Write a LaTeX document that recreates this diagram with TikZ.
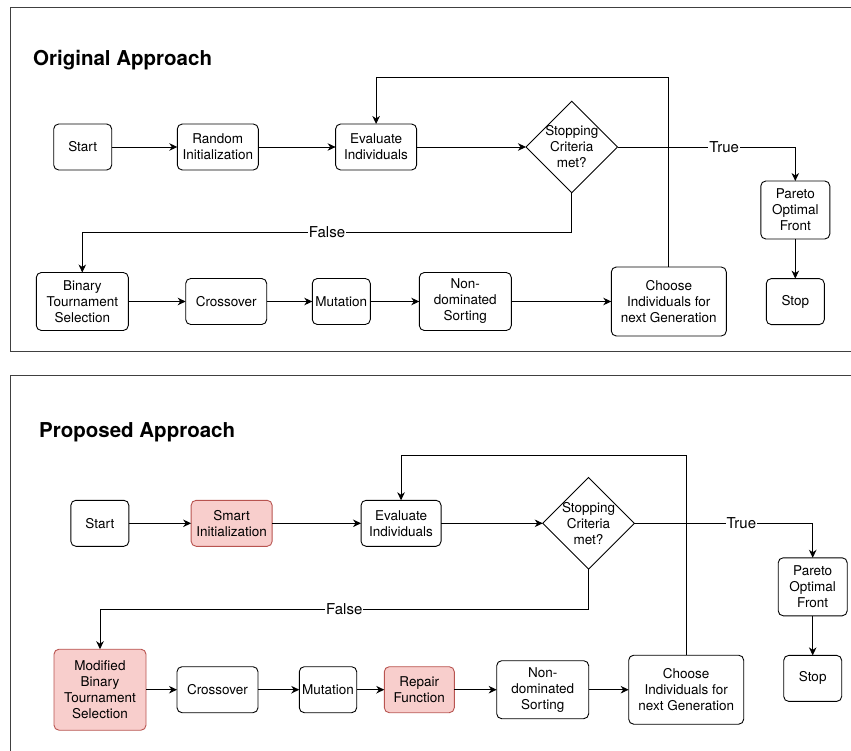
\documentclass[tikz,border=0pt]{standalone}
\usepackage{fontspec}
\setmainfont{TeX Gyre Heros}
\usetikzlibrary{positioning,shapes.geometric,arrows.meta}

\definecolor{boxred}{HTML}{F8CECC}
\definecolor{edgered}{HTML}{B85450}

\tikzset{
  box/.style={draw,rounded corners=5pt,align=center,inner sep=0pt,outer sep=0pt,
    line width=0.9pt,font=\fontsize{13.5}{16}\selectfont},
  redbox/.style={box,fill=boxred,draw=edgered},
  sz/.style 2 args={minimum width=#1pt,minimum height=#2pt},
  crit/.style={draw,diamond,align=center,inner sep=-6pt,outer sep=0pt,
    minimum size=91.6pt,line width=0.9pt,font=\fontsize{13.5}{16}\selectfont},
  lbl/.style={fill=white,inner sep=1pt,font=\fontsize{15}{18}\selectfont},
  heading/.style={anchor=base west,inner sep=0pt,font=\bfseries\fontsize{20.5}{24}\selectfont},
  frame/.style={draw=black!75,line width=0.9pt},
  conn/.style={line width=0.9pt,-{Stealth[length=8pt,width=7.5pt,inset=2.5pt]}}
}

\begin{document}
\begin{tikzpicture}[x=1pt,y=-1pt]
  \useasboundingbox (0,0) rectangle (851,751);
  \draw[frame] (851,7) -- (10,7) -- (10,351) -- (851,351);
  \draw[frame] (851,375) -- (10,375) -- (10,751);

  % original approach
  \node[heading] (title1) at (33,65.5) {Original Approach};
  \node[box,sz={58}{46}] (start1) at (82.7,147) {Start};
  \node[box,sz={81}{46},right=65.6pt of start1] (init1) {Random\\Initialization};
  \node[box,sz={81}{46},right=77.3pt of init1] (eval1) {Evaluate\\Individuals};
  \node[crit,right=109.4pt of eval1] (crit1) {Stopping\\Criteria\\met?};
  \node[box,sz={69}{58}] (pareto1) at (795.3,210) {Pareto\\Optimal\\Front};
  \node[box,sz={58}{46},below=39.6pt of pareto1] (stop1) {Stop};
  \node[box,sz={92}{58}] (binary1) at (82.3,301.5) {Binary\\Tournament\\Selection};
  \node[box,sz={81}{46},right=57.4pt of binary1] (cross1) {Crossover};
  \node[box,sz={58}{46},right=45.6pt of cross1] (mut1) {Mutation};
  \node[box,sz={92}{58},right=49pt of mut1] (sort1) {Non-\\dominated\\Sorting};
  \node[box,sz={115}{69},right=100pt of sort1] (choose1) {Choose\\Individuals for\\next Generation};
  \coordinate (loop1) at (0,77.3);
  \coordinate (false1) at (0,232.3);
  \draw[conn] (start1) -- (init1);
  \draw[conn] (init1) -- (eval1);
  \draw[conn] (eval1) -- (crit1);
  \draw[conn] (crit1.east) -| (pareto1.north) node[lbl,pos=0.3] {True};
  \draw[conn] (pareto1) -- (stop1);
  \draw[conn] (crit1.south) -- (crit1.south |- false1) -| (binary1.north) node[lbl,pos=0.25] {False};
  \draw[conn] (binary1) -- (cross1);
  \draw[conn] (cross1) -- (mut1);
  \draw[conn] (mut1) -- (sort1);
  \draw[conn] (sort1) -- (choose1);
  \draw[conn] (choose1.north) -- (choose1.north |- loop1) -| (eval1.north);

  % proposed approach
  \node[heading] (title2) at (39,437.5) {Proposed Approach};
  \node[box,sz={58}{46}] (start2) at (99.85,523.3) {Start};
  \node[redbox,sz={81}{46},right=62.3pt of start2] (init2) {Smart\\Initialization};
  \node[box,sz={80}{46},right=88.9pt of init2] (eval2) {Evaluate\\Individuals};
  \node[crit,right=101.7pt of eval2] (crit2) {Stopping\\Criteria\\met?};
  \node[box,sz={69}{58}] (pareto2) at (812.7,586.8) {Pareto\\Optimal\\Front};
  \node[box,sz={58}{46},below=39.6pt of pareto2] (stop2) {Stop};
  \node[redbox,sz={92}{81}] (binary2) at (100,689.7) {Modified\\Binary\\Tournament\\Selection};
  \node[box,sz={81}{46},right=31pt of binary2] (cross2) {Crossover};
  \node[box,sz={57.4}{46},right=41.3pt of cross2] (mut2) {Mutation};
  \node[redbox,sz={70}{46},right=27.6pt of mut2] (repair2) {Repair\\Function};
  \node[box,sz={92}{58},right=42.4pt of repair2] (sort2) {Non-\\dominated\\Sorting};
  \node[box,sz={115}{69},right=40pt of sort2] (choose2) {Choose\\Individuals for\\next Generation};
  \coordinate (loop2) at (0,455);
  \coordinate (false2) at (0,609.3);
  \draw[conn] (start2) -- (init2);
  \draw[conn] (init2) -- (eval2);
  \draw[conn] (eval2) -- (crit2);
  \draw[conn] (crit2.east) -| (pareto2.north) node[lbl,pos=0.3] {True};
  \draw[conn] (pareto2) -- (stop2);
  \draw[conn] (crit2.south) -- (crit2.south |- false2) -| (binary2.north) node[lbl,pos=0.25] {False};
  \draw[conn] (binary2) -- (cross2);
  \draw[conn] (cross2) -- (mut2);
  \draw[conn] (mut2) -- (repair2);
  \draw[conn] (repair2) -- (sort2);
  \draw[conn] (sort2) -- (choose2);
  \draw[conn] (choose2.north) -- (choose2.north |- loop2) -| (eval2.north);
\end{tikzpicture}
\end{document}
